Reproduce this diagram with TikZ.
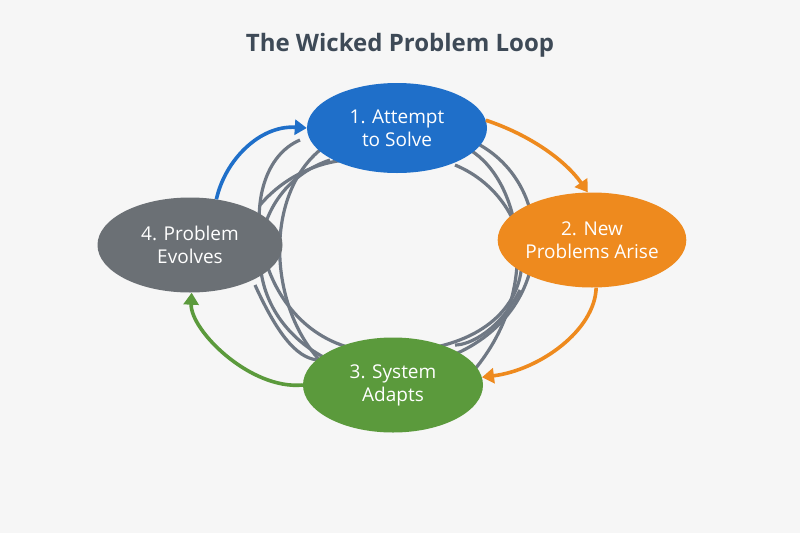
\documentclass[tikz,border=0pt]{standalone}
\usepackage{fontspec}
\setmainfont{Open Sans}
\usetikzlibrary{shapes.geometric,arrows.meta}
\definecolor{bg}{HTML}{F6F6F6}
\definecolor{tblue}{HTML}{1F6FC9}
\definecolor{torange}{HTML}{EE8A1E}
\definecolor{tgreen}{HTML}{5B9A3C}
\definecolor{tgray}{HTML}{6B7075}
\definecolor{tline}{HTML}{6F7884}
\definecolor{ttitle}{HTML}{3E4A57}
\tikzset{
  stage/.style={ellipse,text=white,align=center,font=\fontsize{19}{23}\selectfont,inner sep=0pt},
  tangle/.style={tline,line width=3.2pt},
  arr/.style={line width=3.6pt,-{Triangle[length=12pt,width=15pt]}}
}
\begin{document}
\begin{tikzpicture}[x=1pt,y=-1pt]
\fill[bg] (0,0) rectangle (800,533);
\useasboundingbox (0,0) rectangle (800,533);
\node[font=\bfseries\fontsize{24}{28}\selectfont,text=ttitle] (title) at (400,45) {The Wicked Problem Loop};
\coordinate (a1) at (470,140);\coordinate (a2) at (330,160);
\coordinate (a3) at (455,165);\coordinate (a4) at (300,140);
\draw[tangle] (a1) .. controls (560,180) and (560,320) .. (440,360);
\draw[tangle] (a3) .. controls (540,200) and (560,330) .. (420,350);
\draw[tangle] (470,150) .. controls (520,180) and (545,290) .. (470,375);
\draw[tangle] (a2) .. controls (240,190) and (230,320) .. (340,365);
\draw[tangle] (a4) .. controls (230,170) and (250,330) .. (360,350);
\draw[tangle] (320,150) .. controls (260,200) and (270,320) .. (330,370);
\draw[tangle] (260,205) .. controls (290,170) and (330,160) .. (350,160);
\draw[tangle] (520,290) .. controls (500,330) and (470,345) .. (455,345);
\draw[tangle] (255,285) .. controls (280,340) and (300,360) .. (320,360);
\node[stage,fill=tblue,minimum width=180pt,minimum height=90pt] (n1) at (397,128) {1. Attempt\\to Solve};
\node[stage,fill=torange,minimum width=165pt,minimum height=95pt] (n2) at (592,240) {2. New\\Problems Arise};
\node[stage,fill=tgreen,minimum width=180pt,minimum height=95pt] (n3) at (393,385) {3. System\\Adapts};
\node[stage,fill=tgray,minimum width=185pt,minimum height=95pt] (n4) at (190,245) {4. Problem\\Evolves};
\draw[arr,tblue] (n4.60) .. controls (225,160) and (260,125) .. (n1.180);
\draw[arr,torange] (n1.5) .. controls (530,135) and (565,160) .. (n2.95);
\draw[arr,torange] (n2.-85) .. controls (595,330) and (540,370) .. (n3.5);
\draw[arr,tgreen] (n3.180) .. controls (250,390) and (190,330) .. (n4.-88);
\end{tikzpicture}
\end{document}
